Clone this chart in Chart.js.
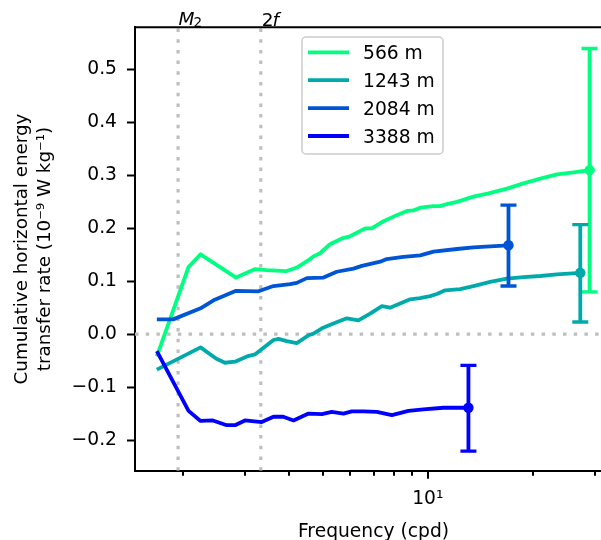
<!DOCTYPE html>
<html><head><meta charset="utf-8">
<script src="https://cdn.jsdelivr.net/npm/chart.js@4.4.1/dist/chart.umd.min.js"></script>
<style>
html,body{margin:0;padding:0;overflow:hidden;background:#fff;width:601px;height:540px;}
#clip{position:relative;width:601px;height:540px;overflow:hidden;}
#c{position:absolute;left:0;top:0;display:block;}
</style></head><body>
<div id="clip"><canvas id="c" width="614" height="540" style="width:614px;height:540px"></canvas></div>
<script>
// ---- data ----
const depths = ['566 m', '1243 m', '2084 m', '3388 m'];
const colors = ['#00ff80', '#00aaaa', '#0055d4', '#0000ff'];

const freq566 = [1.68, 2.07, 2.24, 2.83, 3.21, 3.46, 3.93, 4.22, 4.56, 4.71, 4.92, 5.25, 5.68, 5.99, 6.62, 6.91, 7.39, 8.15, 8.71, 9.10, 9.51, 10.38, 10.84, 11.33, 12.11, 13.50, 14.91, 16.83, 18.77, 20.96, 23.39, 26.10, 28.99];
const val566  = [-0.042, 0.127, 0.151, 0.107, 0.123, 0.121, 0.119, 0.126, 0.140, 0.147, 0.153, 0.170, 0.181, 0.185, 0.200, 0.200, 0.212, 0.225, 0.233, 0.234, 0.239, 0.242, 0.242, 0.246, 0.250, 0.260, 0.266, 0.275, 0.285, 0.294, 0.302, 0.306, 0.310];

const freq1243 = [1.68, 2.24, 2.48, 2.63, 2.81, 3.04, 3.21, 3.62, 3.74, 3.95, 4.22, 4.56, 4.71, 4.98, 5.37, 5.87, 6.33, 6.84, 7.39, 7.80, 8.33, 8.90, 9.50, 10.15, 10.61, 11.21, 12.37, 13.50, 15.07, 16.83, 18.77, 20.96, 23.39, 27.27];
const val1243  = [-0.067, -0.025, -0.046, -0.054, -0.052, -0.042, -0.038, -0.011, -0.009, -0.013, -0.017, -0.002, 0.001, 0.011, 0.020, 0.030, 0.026, 0.039, 0.053, 0.050, 0.058, 0.066, 0.068, 0.072, 0.076, 0.083, 0.085, 0.091, 0.099, 0.105, 0.108, 0.110, 0.113, 0.116];

const freq2084 = [1.68, 1.87, 2.24, 2.44, 2.83, 3.28, 3.62, 4.04, 4.22, 4.51, 5.03, 5.49, 6.13, 6.48, 7.31, 7.63, 8.51, 9.51, 10.38, 12.11, 13.50, 15.07, 17.00];
const val2084  = [0.028, 0.028, 0.049, 0.064, 0.082, 0.081, 0.091, 0.0945, 0.097, 0.106, 0.107, 0.118, 0.124, 0.129, 0.137, 0.142, 0.146, 0.149, 0.156, 0.161, 0.164, 0.166, 0.168];

const freq3388 = [1.68, 2.07, 2.24, 2.43, 2.66, 2.81, 3.00, 3.35, 3.62, 3.86, 4.13, 4.56, 4.98, 5.31, 5.74, 6.06, 6.54, 7.15, 7.89, 8.80, 9.71, 11.08, 13.06];
const val3388  = [-0.032, -0.145, -0.164, -0.163, -0.172, -0.172, -0.163, -0.166, -0.156, -0.156, -0.163, -0.150, -0.151, -0.147, -0.150, -0.146, -0.146, -0.147, -0.153, -0.145, -0.142, -0.139, -0.139];

// error bars at the last point of each series
const errLow  = [0.080, 0.023, 0.091, -0.221];
const errHigh = [0.540, 0.207, 0.244, -0.059];

// reference frequencies (cpd)
const refM2 = 1.932;
const ref2f = 3.33;

// axes (the right end of the plot lies just past the figure edge)
const xMin = 1.455, xMax = 33.6;
const yMin = -0.258, yMax = 0.580;
const xMajorTicks = [10];
const xMajorLabels = ['10¹'];
const xMinorTicks = [2, 3, 4, 5, 6, 7, 8, 9, 20, 30];
const yTicks = [-0.2, -0.1, 0.0, 0.1, 0.2, 0.3, 0.4, 0.5];

// ---- build chart ----
const FONT = 'DejaVu Sans';
const FS = 18.7;
const LW = 3.8;
Chart.defaults.font.family = FONT;
Chart.defaults.font.size = FS;
Chart.defaults.color = '#000';

const freqs = [freq566, freq1243, freq2084, freq3388];
const vals = [val566, val1243, val2084, val3388];

const datasets = [];
const refStyle = {borderColor: '#bfbfbf', borderWidth: 3.2, borderDash: [3.5, 7.2], pointRadius: 0, order: 100, fill: false};
datasets.push(Object.assign({label: '_zero', data: [{x: xMin, y: 0}, {x: xMax, y: 0}]}, refStyle));
datasets.push(Object.assign({label: '_m2', data: [{x: refM2, y: yMin}, {x: refM2, y: yMax}]}, refStyle));
datasets.push(Object.assign({label: '_2f', data: [{x: ref2f, y: yMin}, {x: ref2f, y: yMax}]}, refStyle));

let ord = 60;
depths.forEach((lab, i) => {
  const f = freqs[i], v = vals[i];
  const n = f.length;
  datasets.push({
    label: lab,
    data: f.map((x, k) => ({x: x, y: v[k]})),
    borderColor: colors[i],
    backgroundColor: colors[i],
    borderWidth: LW,
    borderJoinStyle: 'round',
    tension: 0,
    fill: false,
    pointRadius: (ctx) => ctx.dataIndex === n - 1 ? 5.2 : 0,
    pointBorderWidth: 0,
    pointBackgroundColor: colors[i],
    order: ord--
  });
  datasets.push({
    label: '_err' + i,
    data: [{x: f[n - 1], y: errLow[i]}, {x: f[n - 1], y: errHigh[i]}],
    borderColor: colors[i],
    borderWidth: LW,
    fill: false,
    pointStyle: 'line',
    pointRadius: 8,
    pointBorderWidth: 3.4,
    pointBorderColor: colors[i],
    order: ord--
  });
});

const decorations = {
  id: 'decorations',
  afterDraw(chart) {
    const ctx = chart.ctx;
    const xs = chart.scales.x;
    const ca = chart.chartArea;
    ctx.save();
    // top and right spines
    ctx.strokeStyle = '#000';
    ctx.lineWidth = 2;
    ctx.beginPath();
    ctx.moveTo(ca.left - 1, ca.top);
    ctx.lineTo(ca.right, ca.top);
    ctx.lineTo(ca.right, ca.bottom);
    ctx.stroke();
    // x tick marks (major longer than minor)
    xs.ticks.forEach(t => {
      const px = Math.round(xs.getPixelForValue(t.value));
      const len = t.major ? 8 : 5;
      ctx.beginPath();
      ctx.moveTo(px, ca.bottom);
      ctx.lineTo(px, ca.bottom + len);
      ctx.stroke();
    });
    // labels above reference lines
    const pm = xs.getPixelForValue(refM2);
    const p2 = xs.getPixelForValue(ref2f);
    ctx.fillStyle = '#000';
    ctx.textBaseline = 'alphabetic';
    ctx.textAlign = 'left';
    ctx.font = 'italic 18.5px ' + FONT;
    ctx.fillText('M', pm + 0.5, 25);
    const wM = ctx.measureText('M').width;
    ctx.font = '13.5px ' + FONT;
    ctx.fillText('2', pm + wM - 0.5, 27);
    ctx.font = '18.5px ' + FONT;
    ctx.fillText('2', p2 + 1, 25.5);
    const w2 = ctx.measureText('2').width;
    ctx.font = 'italic 18.5px ' + FONT;
    ctx.fillText('f', p2 + w2, 25.5);
    // legend
    const lx = 302, ly = 37, lw = 141, lh = 117;
    ctx.beginPath();
    ctx.roundRect(lx, ly, lw, lh, 4);
    ctx.fillStyle = 'rgba(255,255,255,0.8)';
    ctx.fill();
    ctx.strokeStyle = '#cccccc';
    ctx.lineWidth = 1.5;
    ctx.stroke();
    ctx.font = FS + 'px ' + FONT;
    ctx.textBaseline = 'alphabetic';
    depths.forEach((lab, i) => {
      const y = 52.3 + i * 27.9;
      ctx.strokeStyle = colors[i];
      ctx.lineWidth = LW;
      ctx.beginPath();
      ctx.moveTo(308, y);
      ctx.lineTo(349, y);
      ctx.stroke();
      ctx.fillStyle = '#000';
      ctx.fillText(lab, 363, y + 6.8);
    });
    ctx.restore();
  }
};

new Chart(document.getElementById('c'), {
  type: 'line',
  data: {datasets},
  plugins: [decorations],
  options: {
    responsive: false,
    animation: false,
    events: [],
    layout: {autoPadding: false, padding: {top: 27.3, right: 2, left: 0, bottom: 0}},
    plugins: {legend: {display: false}, tooltip: {enabled: false}},
    scales: {
      x: {
        type: 'logarithmic',
        min: xMin, max: xMax,
        afterBuildTicks: (s) => {
          s.ticks = xMinorTicks.concat(xMajorTicks).sort((a, b) => a - b)
            .map(v => ({value: v, major: xMajorTicks.includes(v)}));
        },
        afterFit: (s) => { s.height = 69.3; },
        grid: {display: false, drawTicks: false},
        border: {display: true, color: '#000', width: 2},
        ticks: {
          autoSkip: false, maxRotation: 0, padding: 17,
          callback: (v) => { const k = xMajorTicks.indexOf(v); return k >= 0 ? xMajorLabels[k] : ''; }
        },
        title: {display: true, text: 'Frequency (cpd)', font: {size: FS, lineHeight: 1}, padding: {top: 0, bottom: -1}}
      },
      y: {
        type: 'linear',
        min: yMin, max: yMax,
        afterBuildTicks: (s) => { s.ticks = yTicks.map(v => ({value: v})); },
        afterFit: (s) => { s.width = 135; },
        grid: {display: true, drawOnChartArea: false, drawTicks: true, tickLength: 8, tickWidth: 2, tickColor: '#000'},
        border: {display: true, color: '#000', width: 2},
        ticks: {
          padding: 10,
          callback: (v) => (v < 0 ? '\u2212' : '') + Math.abs(v).toFixed(1)
        },
        title: {
          display: true,
          text: ['Cumulative horizontal energy', 'transfer rate (10\u207B\u2079 W kg\u207B\u00B9)'],
          font: {size: 18.3, lineHeight: 1.25},
          padding: {top: 11, bottom: 0}
        }
      }
    }
  }
});
</script>
</body></html>
